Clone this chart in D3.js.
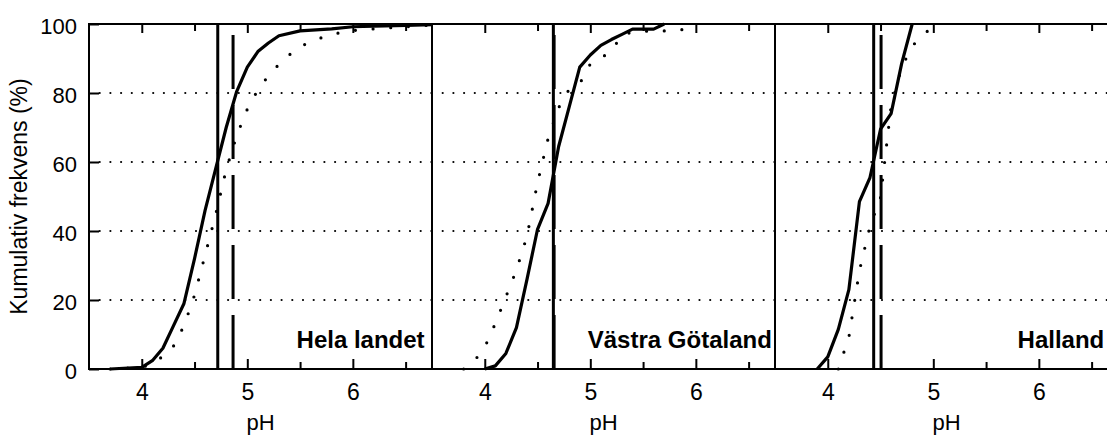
<!DOCTYPE html>
<html>
<head>
<meta charset="utf-8">
<script src="https://cdn.jsdelivr.net/npm/d3@7"></script>
<style>
body { margin: 0; background: #fff; }
svg { display: block; font-family: "Liberation Sans", Arial, Helvetica, sans-serif; }
</style>
</head>
<body>
<div id="chart"></div>
<script>
// panel titles, in left-to-right order
var panelNames = ["Hela landet", "Västra Götaland", "Halland"];

var xMajorTicks = [4, 5, 6];
var xMinorTicks = [4.5, 5.5, 6.5];
var yTicks = [0, 20, 40, 60, 80, 100];

// vertical reference lines (pH)
var solidRefPH = [4.72, 4.65, 4.435];
var dashedRefPH = [4.865, 4.657, 4.505];

// cumulative frequency, [pH, %] - solid curves
var helaSolid = [[3.7, 0], [4.0, 0.5], [4.1, 2.4], [4.2, 6], [4.3, 12.5], [4.4, 19], [4.5, 32],
    [4.6, 46], [4.7, 58], [4.8, 70], [4.9, 80.5], [5.0, 87.5], [5.1, 92], [5.2, 94.5],
    [5.3, 96.6], [5.5, 98], [5.8, 98.6], [6.0, 99.2], [6.5, 99.6], [6.75, 99.8]];
var vgSolid = [[4.0, 0], [4.1, 0.9], [4.2, 4.5], [4.3, 12], [4.4, 26], [4.5, 40.5], [4.6, 48],
    [4.7, 64.5], [4.8, 76], [4.9, 87.5], [5.0, 91], [5.1, 93.8], [5.2, 95.5], [5.3, 97],
    [5.4, 98.5], [5.6, 98.5], [5.7, 100]];
var hallSolid = [[3.9, 0], [4.0, 3.5], [4.1, 11.5], [4.2, 23], [4.3, 48.5], [4.4, 55.5],
    [4.5, 69.5], [4.6, 74], [4.7, 88.5], [4.8, 100]];

// cumulative frequency, [pH, %] - dotted curves
var helaDotted = [[3.7, 0], [4.0, 0.5], [4.1, 1.4], [4.2, 3.7], [4.3, 6.6], [4.4, 12.5], [4.5, 21.4],
    [4.6, 33], [4.7, 44.7], [4.8, 57.8], [4.9, 67.7], [5.0, 75.3], [5.1, 80.9], [5.2, 85],
    [5.3, 88.3], [5.4, 91.1], [5.5, 93.3], [5.6, 95], [5.7, 96], [5.8, 97], [5.9, 97.6],
    [6.0, 98.1], [6.2, 98.6], [6.4, 99], [6.6, 99.4], [6.75, 99.7]];
var vgDotted = [[3.8, 0], [3.9, 2.3], [4.0, 6.3], [4.1, 13.2], [4.2, 20.9], [4.3, 28.7], [4.4, 38.5],
    [4.5, 54], [4.6, 66.8], [4.7, 75.7], [4.8, 81.1], [4.9, 82.7], [5.0, 88.4], [5.1, 90.2],
    [5.2, 92], [5.3, 97], [5.45, 97.8], [5.6, 98], [5.8, 98], [5.95, 98.8]];
var hallDotted = [[4.1, 0], [4.2, 9.2], [4.3, 28.5], [4.4, 41.4], [4.5, 49.7], [4.6, 76.2],
    [4.7, 87.4], [4.8, 93.6], [4.9, 96.7], [5.0, 99.4]];

var solidSeries = [helaSolid, vgSolid, hallSolid];
var dottedSeries = [helaDotted, vgDotted, hallDotted];
// where the right edge of each panel title sits (pH)
var labelEndPH = [6.68, 6.72, 6.62];

var createCumulativeChart = function(selector) {
    var width = 1107, height = 435;
    var margin = {top: 24, left: 89};
    var panelWidth = 343, plotHeight = 345;

    var svg = d3.select(selector).append("svg")
        .attr("width", width)
        .attr("height", height);

    var y = d3.scaleLinear()
        .domain([0, 100])
        .range([margin.top + plotHeight, margin.top]);

    panelNames.forEach(function(name, i) {
        var x0 = margin.left + i * panelWidth;
        var x = d3.scaleLinear()
            .domain([3.5, 6.75])
            .range([x0, x0 + panelWidth]);

        var g = svg.append("g").attr("class", "panel");

        // dotted grid
        g.selectAll(".grid")
            .data(yTicks.filter(function(d) { return d > 0 && d < 100; }))
            .enter().append("line")
            .attr("class", "grid")
            .attr("x1", x0).attr("x2", x0 + panelWidth)
            .attr("y1", function(d) { return y(d); })
            .attr("y2", function(d) { return y(d); })
            .attr("stroke", "#000")
            .attr("stroke-width", 2.2)
            .attr("stroke-linecap", "round")
            .attr("stroke-dasharray", "0,10.7");

        // bottom axis: major with labels, minor without
        var bottom = g.append("g")
            .attr("transform", "translate(0," + y(0) + ")")
            .call(d3.axisBottom(x).tickValues(xMajorTicks).tickSizeInner(-10).tickSizeOuter(0)
                .tickPadding(15).tickFormat(d3.format("d")));
        bottom.append("g").call(d3.axisBottom(x).tickValues(xMinorTicks).tickSizeInner(-7)
            .tickSizeOuter(0).tickFormat(""));

        var top = g.append("g")
            .attr("transform", "translate(0," + y(100) + ")")
            .call(d3.axisTop(x).tickValues(xMajorTicks).tickSizeInner(-9).tickSizeOuter(0).tickFormat(""));
        top.append("g").call(d3.axisTop(x).tickValues(xMinorTicks).tickSizeInner(-7)
            .tickSizeOuter(0).tickFormat(""));

        g.selectAll(".domain").remove();
        g.selectAll(".tick line").attr("stroke-width", 2);
        bottom.selectAll(".tick text")
            .attr("font-size", 23)
            .attr("font-family", "Liberation Sans, Arial, sans-serif")
            .attr("fill", "#000");

        g.append("text")
            .attr("x", x0 + panelWidth / 2)
            .attr("y", 430)
            .attr("text-anchor", "middle")
            .attr("font-size", 22)
            .text("pH");

        if (i == 0) {
            var left = g.append("g")
                .attr("transform", "translate(" + x0 + ",0)")
                .call(d3.axisLeft(y).tickValues(yTicks).tickSizeInner(-10).tickSizeOuter(0).tickPadding(12));
            left.select(".domain").remove();
            left.selectAll(".tick line").attr("stroke-width", 2);
            left.selectAll(".tick text")
                .attr("font-size", 22)
                .attr("font-family", "Liberation Sans, Arial, sans-serif")
                .attr("dy", "0.41em")
                .attr("fill", "#000");
        }

        // reference lines
        g.append("line")
            .attr("x1", x(solidRefPH[i])).attr("x2", x(solidRefPH[i]))
            .attr("y1", y(0)).attr("y2", y(100))
            .attr("stroke", "#000").attr("stroke-width", 3);
        g.append("line")
            .attr("x1", x(dashedRefPH[i])).attr("x2", x(dashedRefPH[i]))
            .attr("y1", y(0)).attr("y2", y(100))
            .attr("stroke", "#000").attr("stroke-width", 3)
            .attr("stroke-dasharray", "54,16");

        var line = d3.line()
            .x(function(d) { return x(d[0]); })
            .y(function(d) { return y(d[1]); });

        g.append("path")
            .datum(dottedSeries[i])
            .attr("d", line)
            .attr("fill", "none")
            .attr("stroke", "#000")
            .attr("stroke-width", 3.2)
            .attr("stroke-linecap", "round")
            .attr("stroke-dasharray", "0,17.7");

        g.append("path")
            .datum(solidSeries[i])
            .attr("d", line)
            .attr("fill", "none")
            .attr("stroke", "#000")
            .attr("stroke-width", 3.2)
            .attr("stroke-linejoin", "round");

        g.append("text")
            .attr("x", x(labelEndPH[i]))
            .attr("y", 348)
            .attr("text-anchor", "end")
            .attr("font-size", 24)
            .attr("font-weight", "bold")
            .text(name);

        // panel frame
        g.append("rect")
            .attr("x", x0).attr("y", y(100))
            .attr("width", panelWidth).attr("height", plotHeight)
            .attr("fill", "none")
            .attr("stroke", "#000")
            .attr("stroke-width", 2);
    });

    svg.append("text")
        .attr("transform", "translate(27," + y(50) + ") rotate(-90)")
        .attr("text-anchor", "middle")
        .attr("font-size", 23)
        .text("Kumulativ frekvens (%)");
}

createCumulativeChart("#chart");
</script>
</body>
</html>
